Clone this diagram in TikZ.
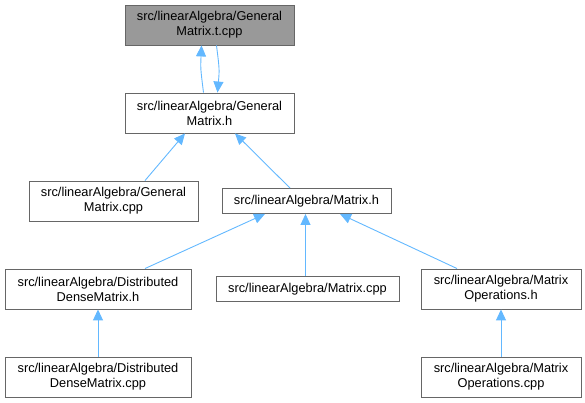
\documentclass[tikz,border=0pt]{standalone}
\usepackage{fontspec}
\setmainfont{Liberation Sans}
\usetikzlibrary{arrows.meta,calc}
\definecolor{edgeblue}{HTML}{63B8FF}
\definecolor{boxline}{HTML}{666666}
\definecolor{curfill}{HTML}{999999}
\tikzset{
 filebox/.style={draw=boxline,line width=.9pt,fill=white,align=center,inner sep=0,minimum height=40pt,font=\fontsize{12.8}{15}\selectfont},
 onebox/.style={filebox,minimum height=25pt},
 curbox/.style={filebox,fill=curfill},
 dep/.style={draw=edgeblue,line width=.9pt,-{Triangle[length=11pt,width=10pt]}}
}
\begin{document}
\begin{tikzpicture}[x=1pt,y=1pt]
\path[use as bounding box] (0,0) rectangle (585,403);
\node[curbox,minimum width=169pt] (tcpp) at (209.5,378) {src/linearAlgebra/General\\Matrix.t.cpp};
\node[filebox,minimum width=169pt] (gmh) at (209.5,290) {src/linearAlgebra/General\\Matrix.h};
\node[filebox,minimum width=169pt] (gmcpp) at (113.5,202) {src/linearAlgebra/General\\Matrix.cpp};
\node[onebox,minimum width=169pt] (mh) at (306.5,202) {src/linearAlgebra/Matrix.h};
\node[filebox,minimum width=186pt] (ddmh) at (98,114) {src/linearAlgebra/Distributed\\DenseMatrix.h};
\node[onebox,minimum width=183pt] (mcpp) at (307.5,114) {src/linearAlgebra/Matrix.cpp};
\node[filebox,minimum width=160pt] (moh) at (501,114) {src/linearAlgebra/Matrix\\Operations.h};
\node[filebox,minimum width=186pt] (ddmcpp) at (98,26) {src/linearAlgebra/Distributed\\DenseMatrix.cpp};
\node[filebox,minimum width=160pt] (mocpp) at (501,26) {src/linearAlgebra/Matrix\\Operations.cpp};
\draw[dep] ($(gmh.north)+(-6,0)$) .. controls ($(gmh.north)+(-9,24)$) .. ($(tcpp.south)+(-8,0)$);
\draw[dep] ($(tcpp.south)+(7,0)$) .. controls ($(tcpp.south)+(10,-24)$) .. ($(gmh.north)+(8,0)$);
\draw[dep] ($(gmcpp.north)+(31.5,0)$) -- ($(gmh.south)+(-24.5,0)$);
\draw[dep] ($(mh.north)+(-16.5,0)$) -- ($(gmh.south)+(25.5,0)$);
\draw[dep] ($(ddmh.north)+(47,0)$) -- ($(mh.south)+(-41.5,0)$);
\draw[dep] ($(mcpp.north)+(-2,0)$) -- ($(mh.south)+(-1,0)$);
\draw[dep] ($(moh.north)+(-44,0)$) -- ($(mh.south)+(33.5,0)$);
\draw[dep] (ddmcpp.north) -- (ddmh.south);
\draw[dep] (mocpp.north) -- (moh.south);
\end{tikzpicture}
\end{document}
